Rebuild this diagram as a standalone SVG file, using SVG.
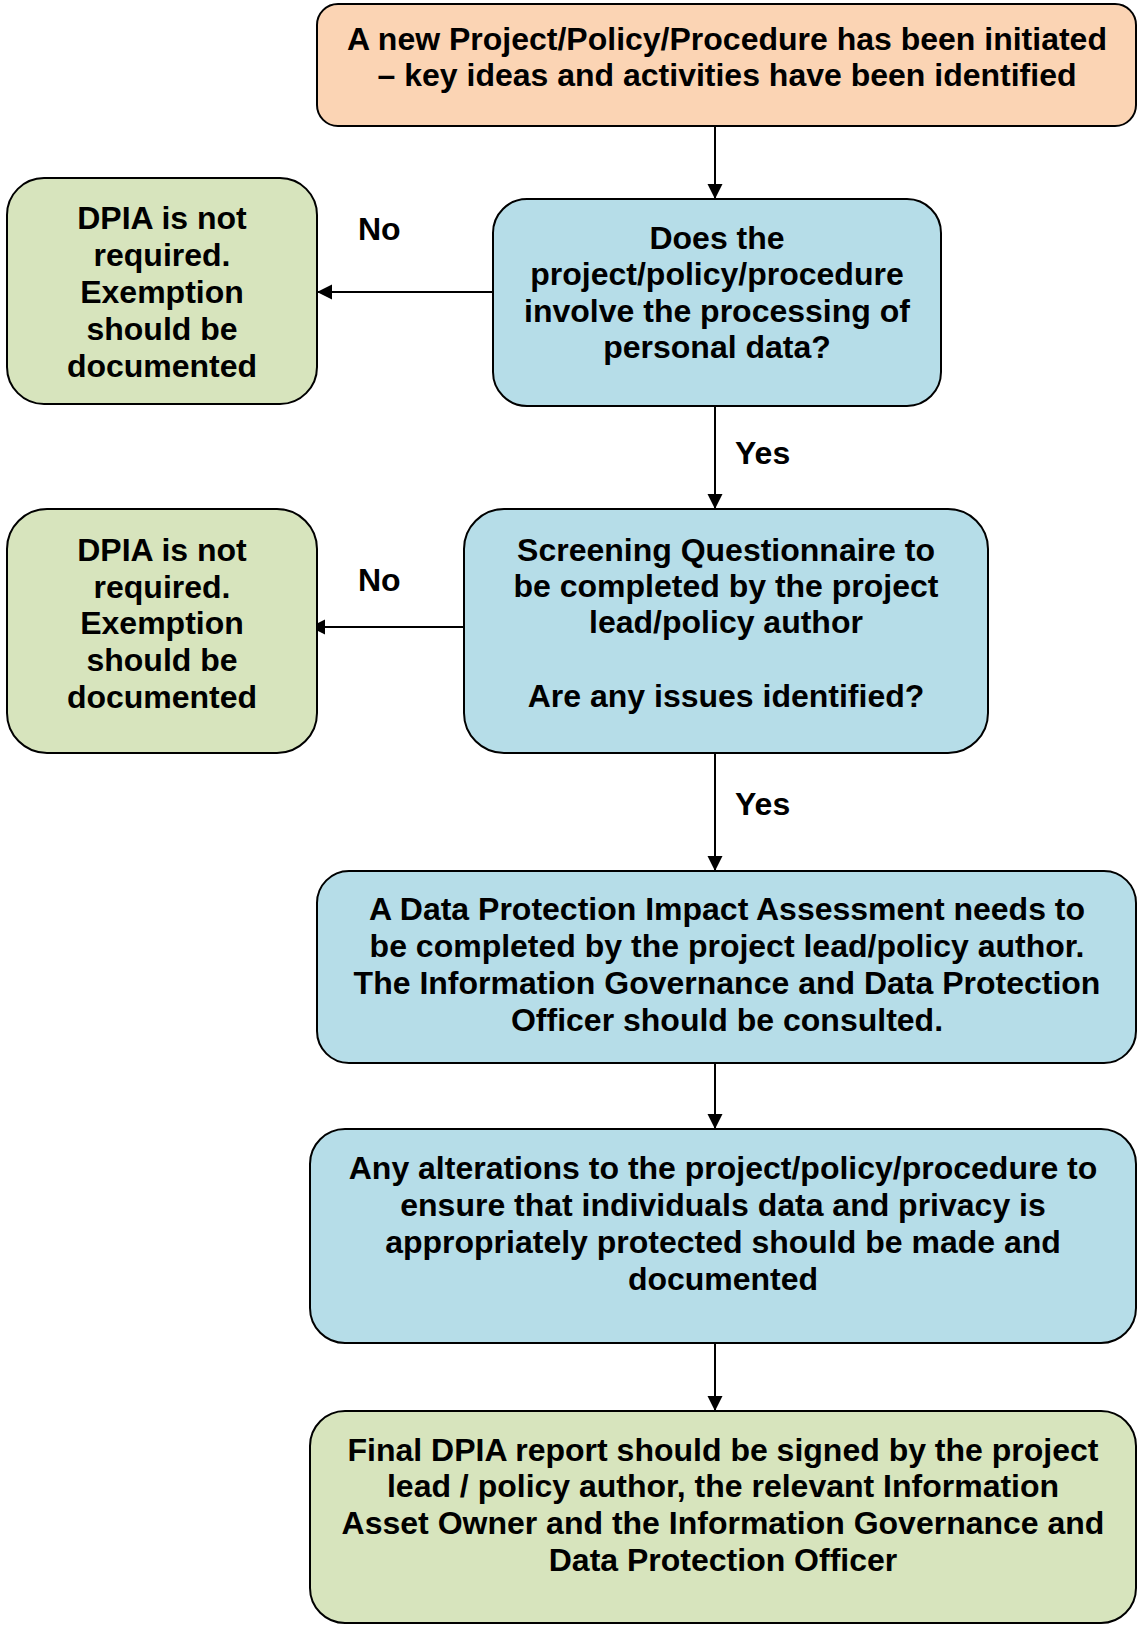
<svg xmlns="http://www.w3.org/2000/svg" width="1138" height="1625" viewBox="0 0 1138 1625">
<style>
.box{stroke:#000;stroke-width:2}
.orange{fill:#FBD4B4}
.blue{fill:#B6DDE8}
.green{fill:#D7E4BD}
text{font-family:"Liberation Sans",Arial,sans-serif;font-weight:bold;font-size:32px;fill:#000}
.c{text-anchor:middle}
.conn line{stroke:#000;stroke-width:2}
</style>
<defs>
<marker id="arr" markerUnits="userSpaceOnUse" markerWidth="16" markerHeight="16" refX="15" refY="7.5" orient="auto">
<path d="M0,0 L15,7.5 L0,15 z" fill="#000"/>
</marker>
</defs>
<rect width="1138" height="1625" fill="#fff"/>
<g id="connectors" class="conn">
<line x1="715" y1="126" x2="715" y2="199" marker-end="url(#arr)"/>
<line x1="493" y1="292" x2="317" y2="292" marker-end="url(#arr)"/>
<line x1="715" y1="406" x2="715" y2="509" marker-end="url(#arr)"/>
<line x1="464" y1="627" x2="310" y2="627" marker-end="url(#arr)"/>
<line x1="715" y1="753" x2="715" y2="871" marker-end="url(#arr)"/>
<line x1="715" y1="1063" x2="715" y2="1129" marker-end="url(#arr)"/>
<line x1="715" y1="1343" x2="715" y2="1411" marker-end="url(#arr)"/>
<text x="358" y="240">No</text>
<text x="358" y="591">No</text>
<text x="735" y="464">Yes</text>
<text x="735" y="815">Yes</text>
</g>
<g id="start">
<rect class="box orange" x="317" y="4" width="819" height="122" rx="21" ry="21"/>
<text class="c" x="727" y="50">A new Project/Policy/Procedure has been initiated</text>
<text class="c" x="727" y="86">– key ideas and activities have been identified</text>
</g>
<g id="q1">
<rect class="box blue" x="493" y="199" width="448" height="207" rx="34" ry="34"/>
<text class="c" x="717" y="249">Does the</text>
<text class="c" x="717" y="285">project/policy/procedure</text>
<text class="c" x="717" y="322">involve the processing of</text>
<text class="c" x="717" y="358">personal data?</text>
</g>
<g id="no1">
<rect class="box green" x="7" y="178" width="310" height="226" rx="37" ry="37"/>
<text class="c" x="162" y="229">DPIA is not</text>
<text class="c" x="162" y="266">required.</text>
<text class="c" x="162" y="303">Exemption</text>
<text class="c" x="162" y="340">should be</text>
<text class="c" x="162" y="377">documented</text>
</g>
<g id="q2">
<rect class="box blue" x="464" y="509" width="524" height="244" rx="40" ry="40"/>
<text class="c" x="726" y="561">Screening Questionnaire to</text>
<text class="c" x="726" y="597">be completed by the project</text>
<text class="c" x="726" y="633">lead/policy author</text>
<text class="c" x="726" y="707">Are any issues identified?</text>
</g>
<g id="no2">
<rect class="box green" x="7" y="509" width="310" height="244" rx="40" ry="40"/>
<text class="c" x="162" y="561">DPIA is not</text>
<text class="c" x="162" y="598">required.</text>
<text class="c" x="162" y="634">Exemption</text>
<text class="c" x="162" y="671">should be</text>
<text class="c" x="162" y="708">documented</text>
</g>
<g id="dpia">
<rect class="box blue" x="317" y="871" width="819" height="192" rx="32" ry="32"/>
<text class="c" x="727" y="920">A Data Protection Impact Assessment needs to</text>
<text class="c" x="727" y="957">be completed by the project lead/policy author.</text>
<text class="c" x="727" y="994">The Information Governance and Data Protection</text>
<text class="c" x="727" y="1031">Officer should be consulted.</text>
</g>
<g id="alter">
<rect class="box blue" x="310" y="1129" width="826" height="214" rx="35" ry="35"/>
<text class="c" x="723" y="1179">Any alterations to the project/policy/procedure to</text>
<text class="c" x="723" y="1216">ensure that individuals data and privacy is</text>
<text class="c" x="723" y="1253">appropriately protected should be made and</text>
<text class="c" x="723" y="1290">documented</text>
</g>
<g id="final">
<rect class="box green" x="310" y="1411" width="826" height="212" rx="35" ry="35"/>
<text class="c" x="723" y="1461">Final DPIA report should be signed by the project</text>
<text class="c" x="723" y="1497">lead / policy author, the relevant Information</text>
<text class="c" x="723" y="1534">Asset Owner and the Information Governance and</text>
<text class="c" x="723" y="1571">Data Protection Officer</text>
</g>
</svg>
